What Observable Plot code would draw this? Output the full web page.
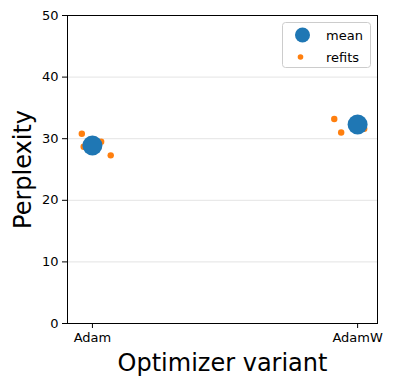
<!DOCTYPE html>
<html>
<head>
<meta charset="utf-8">
<script src="https://cdn.jsdelivr.net/npm/d3@7"></script>
<script src="https://cdn.jsdelivr.net/npm/@observablehq/plot@0.6"></script>
<style>
  body { margin: 0; background: #fff; }
  #wrap { position: relative; width: 393px; height: 386px; font-family: "DejaVu Sans", sans-serif; }
  #legend { position: absolute; left: 282px; top: 22px; }
</style>
</head>
<body>
<div id="wrap"></div>
<script>
const categories = ["Adam", "AdamW"];
const meanValues = [28.9, 32.3];
const refitCategory = ["Adam", "Adam", "Adam", "Adam", "AdamW", "AdamW", "AdamW"];
const refitValues = [30.8, 28.7, 29.5, 27.3, 33.2, 31.0, 31.6];
const refitJitter = [-0.040, -0.033, 0.033, 0.069, -0.088, -0.062, 0.025];
const yTicks = [0, 10, 20, 30, 40, 50];
const gridTicks = [10, 20, 30, 40];

const means = categories.map((c, i) => ({ cat: c, idx: i, value: meanValues[i] }));
const refits = refitValues.map((v, i) => ({
  cat: refitCategory[i],
  xpos: categories.indexOf(refitCategory[i]) + refitJitter[i],
  value: v
}));

const chart = Plot.plot({
  width: 393,
  height: 386,
  marginLeft: 67,
  marginRight: 16,
  marginTop: 15,
  marginBottom: 63,
  style: { fontFamily: "DejaVu Sans, sans-serif", fontSize: "13px", color: "#000", background: "#fff" },
  x: { type: "linear", domain: [-0.094, 1.075] },
  y: { domain: [0, 50] },
  marks: [
    Plot.gridY(gridTicks, { stroke: "#e4e4e4", strokeOpacity: 1 }),
    Plot.axisX([0, 1], {
      tickFormat: i => categories[i], tickSize: 5, tickPadding: 4,
      label: "Optimizer variant", labelAnchor: "center", labelOffset: 47, labelArrow: "none"
    }),
    Plot.axisY(yTicks, {
      tickSize: 5, tickPadding: 4,
      label: "Perplexity", labelAnchor: "center", labelOffset: 54, labelArrow: "none"
    }),
    Plot.dot(refits, { x: "xpos", y: "value", r: 3.2, fill: "#ff7f0e" }),
    Plot.dot(means, { x: "idx", y: "value", r: 10, fill: "#1f77b4" }),
    Plot.frame({ stroke: "#000" })
  ]
});
chart.querySelectorAll("g[aria-label='x-axis tick label'] text, g[aria-label='y-axis tick label'] text").forEach(t => {
  t.setAttribute("font-size", "13");
  t.style.fontSize = "13px";
});
chart.querySelectorAll("g[aria-label='x-axis tick label'], g[aria-label='y-axis tick label']").forEach(g => {
  g.setAttribute("font-size", "13");
});
chart.querySelectorAll("g[aria-label='x-axis label'] text, g[aria-label='y-axis label'] text").forEach(t => {
  t.setAttribute("font-size", "24");
  t.style.fontSize = "24px";
  t.textContent = t.textContent.replace(/\s*[→↑←↓]\s*/g, "");
});
document.getElementById("wrap").appendChild(chart);

const legend = document.createElement("div");
legend.id = "legend";
legend.innerHTML = `
<svg width="89" height="46" style="font-family:'DejaVu Sans',sans-serif;font-size:13px">
  <rect x="0.5" y="0.5" width="88" height="45" rx="3" fill="#fff" fill-opacity="0.8" stroke="#cccccc"/>
  <circle cx="20.5" cy="13" r="7.5" fill="#1f77b4"/>
  <text x="44" y="13" dy="0.35em">mean</text>
  <circle cx="18.5" cy="35" r="2.8" fill="#ff7f0e"/>
  <text x="44" y="35" dy="0.35em">refits</text>
</svg>`;
document.getElementById("wrap").appendChild(legend);
</script>
</body>
</html>
